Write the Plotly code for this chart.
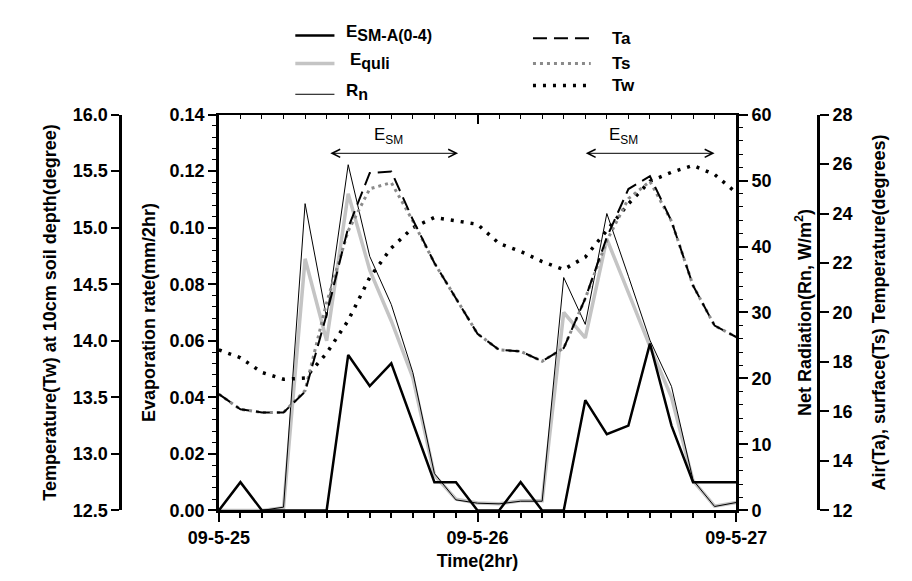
import plotly.graph_objects as go

# ---------------- data (2-hour steps, 09-5-25 00h .. 09-5-27 00h) ----------------
time_index = list(range(25))
date_tick_positions = [0, 12, 24]
date_tick_labels = ["09-5-25", "09-5-26", "09-5-27"]

e_sm_a = [0.0, 0.010, 0.0, 0.0, 0.0, 0.0, 0.055, 0.044, 0.052, 0.031, 0.010, 0.010,
          0.0, 0.0, 0.010, 0.0, 0.0, 0.039, 0.027, 0.030, 0.059, 0.030, 0.010, 0.010, 0.010]

e_quli = [0.0, 0.0, 0.0, 0.001, 0.089, 0.060, 0.112, 0.085, 0.067, 0.047, 0.0125, 0.004,
          0.0026, 0.0024, 0.0034, 0.0034, 0.070, 0.061, 0.096, 0.077, 0.058, 0.040, 0.0105, 0.0015, 0.0028]

rn = [0.0, 0.0, 0.0, 0.5, 46.5, 29.2, 52.4, 38.5, 31.2, 20.9, 5.6, 1.6,
      1.1, 1.0, 1.4, 1.4, 35.3, 28.2, 45.0, 35.5, 25.8, 18.8, 4.6, 0.6, 1.2]

ta = [16.70, 16.09, 15.96, 15.96, 16.80, 19.92, 23.43, 25.64, 25.70, 23.75, 22.00, 20.57,
      19.14, 18.49, 18.43, 18.03, 18.56, 20.57, 23.04, 24.99, 25.51, 23.69, 21.09, 19.47, 19.01]

ts = [16.70, 16.09, 15.96, 15.96, 16.85, 20.40, 23.30, 25.00, 25.25, 23.70, 22.00, 20.57,
      19.14, 18.49, 18.43, 18.03, 18.56, 20.57, 22.90, 24.60, 25.30, 23.69, 21.09, 19.47, 19.01]

tw = [13.92, 13.85, 13.72, 13.66, 13.67, 13.89, 14.18, 14.56, 14.82, 15.00, 15.09, 15.06,
      15.03, 14.86, 14.79, 14.70, 14.63, 14.74, 14.97, 15.21, 15.41, 15.49, 15.55, 15.47, 15.31]

esm_spans = [(5.1, 11.1), (16.95, 23.0)]
esm_arrow_level = 0.1263
esm_label_pos = [7.87, 18.77]
esm_label_level = 0.1325

# ---------------- figure ----------------
W, H = 912, 581
FONT = "Liberation Sans, Arial, sans-serif"


def px_x(p):
    return p / W


def px_y(p):
    return 1 - p / H


x_dom = [px_x(193), px_x(748)]
y_dom = [px_y(510), px_y(100)]

fig = go.Figure()

fig.add_trace(go.Scatter(x=time_index, y=e_quli, mode="lines", name="Equli",
                         line=dict(color="#c4c4c4", width=3.5), yaxis="y"))
fig.add_trace(go.Scatter(x=time_index, y=e_sm_a, mode="lines", name="ESM-A(0-4)",
                         line=dict(color="black", width=2.5), yaxis="y"))
fig.add_trace(go.Scatter(x=[0, 24], y=[None, None], xaxis="x2", yaxis="y", mode="lines",
                         showlegend=False, hoverinfo="skip"))
fig.add_trace(go.Scatter(x=time_index, y=tw, mode="lines", name="Tw",
                         line=dict(color="black", width=3.5, dash="3px,7px"), yaxis="y2"))
fig.add_trace(go.Scatter(x=time_index, y=rn, mode="lines", name="Rn",
                         line=dict(color="black", width=1), yaxis="y3"))
fig.add_trace(go.Scatter(x=time_index, y=ts, mode="lines", name="Ts",
                         line=dict(color="#8a8a8a", width=3, dash="3px,4px"), yaxis="y4"))
fig.add_trace(go.Scatter(x=time_index, y=ta, mode="lines", name="Ta",
                         line=dict(color="black", width=2, dash="14px,7px"), yaxis="y4"))

tickfont = dict(family=FONT, size=18, color="black", weight="bold")
titlefont = dict(family=FONT, size=18, color="black", weight="bold")

common_y = dict(showgrid=False, zeroline=False, showline=True, linecolor="black",
                ticks="outside", tickcolor="black", tickwidth=2, tickfont=tickfont)

fig.update_layout(
    width=W, height=H,
    margin=dict(l=0, r=0, t=0, b=0),
    paper_bgcolor="white", plot_bgcolor="white",
    showlegend=False,
    hovermode=False,
    xaxis=dict(domain=x_dom, range=[0, 24], anchor="y",
               tickmode="array", tickvals=date_tick_positions, ticktext=date_tick_labels,
               ticks="outside", ticklen=9, tickwidth=2, tickcolor="black",
               minor=dict(tick0=0, dtick=1, ticks="outside", ticklen=5, tickwidth=1.5, tickcolor="black"),
               showline=True, linewidth=2.5, linecolor="black",
               showgrid=False, zeroline=False, tickfont=tickfont,
               title=dict(text="Time(2hr)", font=titlefont, standoff=8)),
    xaxis2=dict(overlaying="x", side="top", anchor="y", range=[0, 24],
                tickmode="array", tickvals=date_tick_positions, showticklabels=False,
                ticks="inside", ticklen=9, tickwidth=2, tickcolor="black",
                minor=dict(tick0=0, dtick=1, ticks="inside", ticklen=4, tickwidth=1.2, tickcolor="black"),
                showline=True, linewidth=2, linecolor="black", showgrid=False, zeroline=False),
    yaxis=dict(domain=y_dom, range=[0, 0.14], dtick=0.02, tickformat=".2f", anchor="x",
               ticklen=8, linewidth=2.5,
               minor=dict(dtick=0.004, ticks="outside", ticklen=4, tickwidth=1.2, tickcolor="black"),
               title=dict(text="Evaporation rate(mm/2hr)", font=titlefont, standoff=10),
               **common_y),
    yaxis2=dict(overlaying="y", anchor="free", position=px_x(87), side="left",
                range=[12.5, 16.0], dtick=0.5, tickformat=".1f", ticklen=8, linewidth=2.5,
                title=dict(text="Temperature(Tw) at 10cm soil depth(degree)", font=titlefont, standoff=10),
                **common_y),
    yaxis3=dict(overlaying="y", anchor="x", side="right", range=[0, 60], dtick=10,
                ticklen=9, linewidth=2.5,
                minor=dict(dtick=2, ticks="outside", ticklen=4, tickwidth=1.2, tickcolor="black"),
                title=dict(text="Net Radiation(Rn, W/m<sup>2</sup>)", font=titlefont, standoff=28),
                **common_y),
    yaxis4=dict(overlaying="y", anchor="free", position=px_x(836), side="right",
                range=[12, 28], dtick=2, ticklen=9, linewidth=2.5,
                title=dict(text="Air(Ta), surface(Ts) Temperature(degrees)", font=titlefont, standoff=20),
                **common_y),
)

# E_SM double arrows and labels
for (a, b), lx in zip(esm_spans, esm_label_pos):
    fig.add_annotation(x=b, y=esm_arrow_level, ax=a, ay=esm_arrow_level,
                       xref="x", yref="y", axref="x", ayref="y",
                       text="", showarrow=True, arrowside="end+start", arrowhead=5,
                       arrowsize=1.6, arrowwidth=1, arrowcolor="black",
                       standoff=0, startstandoff=0)
    fig.add_annotation(x=lx, y=esm_label_level, xref="x", yref="y", showarrow=False,
                       text="E<sub>SM</sub>", font=dict(family=FONT, size=17, color="black"))

# custom legend (two columns at top)
legend_left = [
    ("E<sub><span style='font-size:16px'>SM-A(0-4)</span></sub>", 18, 327, dict(color="black", width=2.5)),
    ("E<sub><span style='font-size:16px'>quli</span></sub>", 47, 332, dict(color="#c4c4c4", width=3.5)),
    ("R<sub><span style='font-size:16px'>n</span></sub>", 79, 327, dict(color="black", width=1)),
]
for txt, yy, tx, ln in legend_left:
    fig.add_shape(type="line", xref="paper", yref="paper",
                  x0=px_x(275), x1=px_x(317), y0=px_y(yy), y1=px_y(yy), line=ln)
    fig.add_annotation(x=px_x(tx), y=px_y(yy - 2), xref="paper", yref="paper", showarrow=False,
                       xanchor="left", yanchor="middle", text=txt,
                       font=dict(family=FONT, size=17, color="black", weight="bold"))

legend_right = [
    ("Ta", 21, dict(color="black", width=2, dash="14px,7px")),
    ("Ts", 47, dict(color="#8a8a8a", width=3, dash="3px,4px")),
    ("Tw", 70, dict(color="black", width=3.5, dash="3px,7px")),
]
for txt, yy, ln in legend_right:
    fig.add_shape(type="line", xref="paper", yref="paper",
                  x0=px_x(530), x1=px_x(592), y0=px_y(yy), y1=px_y(yy), line=ln)
    fig.add_annotation(x=px_x(613), y=px_y(yy), xref="paper", yref="paper", showarrow=False,
                       xanchor="left", yanchor="middle", text=txt,
                       font=dict(family=FONT, size=17, color="black", weight="bold"))

fig.write_html("out.html", config={"displayModeBar": False})
